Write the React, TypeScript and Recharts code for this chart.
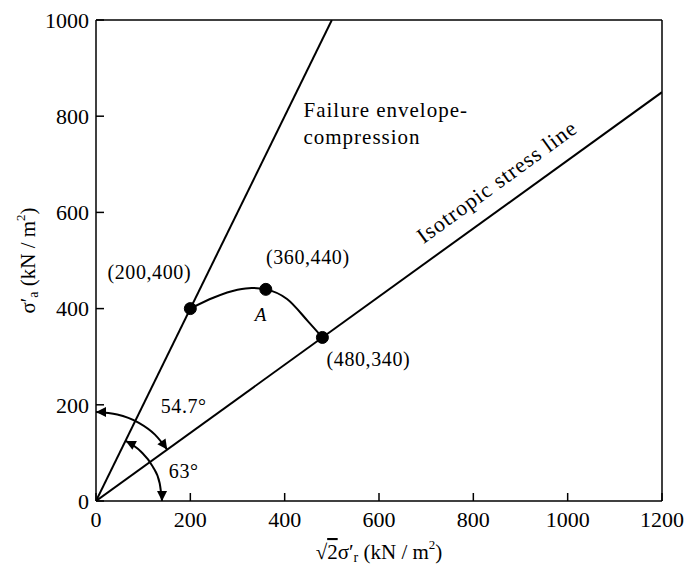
import { ComposedChart, Line, XAxis, YAxis, ReferenceDot, ReferenceLine } from "recharts";

// Stress-path plot in triaxial (√2σ'r, σ'a) space, drawn like a scanned textbook figure.
const X_TICKS = [0, 200, 400, 600, 800, 1000, 1200];
const Y_TICKS = [0, 200, 400, 600, 800, 1000];

const FAILURE_ENVELOPE = [
  { x: 0, y: 0 },
  { x: 500, y: 1000 },
];
const ISOTROPIC_LINE = [
  { x: 0, y: 0 },
  { x: 1200, y: 850 },
];
const STRESS_PATH = [
  { x: 200, y: 400 },
  { x: 250, y: 423 },
  { x: 300, y: 439 },
  { x: 330, y: 443 },
  { x: 360, y: 440 },
  { x: 405, y: 420 },
  { x: 450, y: 373 },
  { x: 480, y: 340 },
];
// angle arcs near the origin (54.7° and 63°)
const OUTER_ARC = [
  { x: 0, y: 185 },
  { x: 45, y: 180 },
  { x: 90, y: 163 },
  { x: 125, y: 138 },
  { x: 151, y: 107 },
];
const INNER_ARC = [
  { x: 63, y: 125 },
  { x: 95, y: 103 },
  { x: 120, y: 72 },
  { x: 135, y: 37 },
  { x: 140, y: 0 },
];
const STATE_POINTS = [
  { x: 200, y: 400, label: "(200,400)" },
  { x: 360, y: 440, label: "(360,440)" },
  { x: 480, y: 340, label: "(480,340)" },
];
const STATE_LABEL_OFFSET = [
  [-41, -37],
  [42, -32],
  [46, 22],
];

const FONT = "'Liberation Serif', 'Times New Roman', serif";
const INK = "#000";

// arrowhead at both ends of an angle arc, tangent to a circle round the origin
function arrowDot(count: number) {
  return (props: any) => {
    const { cx, cy, index, payload } = props;
    if (index !== 0 && index !== count - 1) return <g key={`a${index}`} />;
    const r = Math.hypot(payload.x, payload.y);
    let ux = payload.y / r;
    let uy = payload.x / r;
    if (index === 0) {
      ux = -ux;
      uy = -uy;
    }
    const len = 10;
    const half = 5;
    const bx = cx - ux * len;
    const by = cy - uy * len;
    const pts = `${cx},${cy} ${bx - uy * half},${by + ux * half} ${bx + uy * half},${by - ux * half}`;
    return <polygon key={`a${index}`} points={pts} fill={INK} />;
  };
}

function textAt(dx: number, dy: number, content: any, extra: any = {}) {
  return (props: any) => {
    const vb = props.viewBox;
    const cx = vb.x + vb.width / 2 + dx;
    const cy = vb.y + vb.height / 2 + dy;
    return (
      <text
        x={cx}
        y={cy}
        fontFamily={FONT}
        fontSize={20}
        letterSpacing={0.6}
        fill={INK}
        textAnchor="middle"
        dominantBaseline="central"
        {...extra}
      >
        {content}
      </text>
    );
  };
}

export default function App() {
  return (
    <div style={{ position: "absolute", left: 0, top: 0, background: "#fff" }}>
      <ComposedChart
        width={686}
        height={567}
        margin={{ top: 20, right: 23, bottom: 0, left: 0 }}
        style={{ fontFamily: FONT }}
      >
        <XAxis
          type="number"
          dataKey="x"
          domain={[0, 1200]}
          ticks={X_TICKS}
          height={66}
          allowDataOverflow
          stroke={INK}
          strokeWidth={1.5}
          tickSize={-8}
          tickMargin={18}
          tick={{ fill: INK, fontSize: 22, fontFamily: FONT }}
          label={{
            content: (p: any) => {
              const vb = p.viewBox;
              return (
                <text
                  x={vb.x + vb.width / 2}
                  y={552}
                  fontFamily={FONT}
                  fontSize={21}
                  fill={INK}
                  textAnchor="middle"
                  dominantBaseline="central"
                >
                  √<tspan textDecoration="overline">2</tspan>σ′
                  <tspan fontSize={14} dy={5}>r</tspan>
                  <tspan dy={-5}> (kN / m</tspan>
                  <tspan fontSize={13} dy={-8}>2</tspan>
                  <tspan dy={8}>)</tspan>
                </text>
              );
            },
          }}
        />
        <YAxis
          type="number"
          domain={[0, 1000]}
          ticks={Y_TICKS}
          width={96}
          allowDataOverflow
          stroke={INK}
          strokeWidth={1.5}
          tickSize={-8}
          tickMargin={15}
          tick={{ fill: INK, fontSize: 22, fontFamily: FONT }}
          label={{
            content: (p: any) => {
              const vb = p.viewBox;
              const cy = vb.y + vb.height / 2;
              return (
                <text
                  x={28}
                  y={cy}
                  transform={`rotate(-90 28 ${cy})`}
                  fontFamily={FONT}
                  fontSize={21}
                  fill={INK}
                  textAnchor="middle"
                  dominantBaseline="central"
                >
                  σ′<tspan fontSize={14} dy={5}>a</tspan>
                  <tspan dy={-5}> (kN / m</tspan>
                  <tspan fontSize={13} dy={-8}>2</tspan>
                  <tspan dy={8}>)</tspan>
                </text>
              );
            },
          }}
        />
        <YAxis
          yAxisId="right"
          orientation="right"
          type="number"
          domain={[0, 1000]}
          ticks={Y_TICKS}
          width={1}
          stroke={INK}
          strokeWidth={1.5}
          tickSize={-10}
          tick={false}
        />
        <ReferenceLine y={1000} stroke={INK} strokeWidth={1.5} />

        <Line
          data={FAILURE_ENVELOPE}
          dataKey="y"
          type="linear"
          stroke={INK}
          strokeWidth={2}
          dot={false}
          isAnimationActive={false}
        />
        <Line
          data={ISOTROPIC_LINE}
          dataKey="y"
          type="linear"
          stroke={INK}
          strokeWidth={2}
          dot={false}
          isAnimationActive={false}
        />
        <Line
          data={STRESS_PATH}
          dataKey="y"
          type="monotone"
          stroke={INK}
          strokeWidth={2}
          dot={false}
          isAnimationActive={false}
        />
        <Line
          data={OUTER_ARC}
          dataKey="y"
          type="monotone"
          stroke={INK}
          strokeWidth={2}
          dot={arrowDot(OUTER_ARC.length)}
          isAnimationActive={false}
        />
        <Line
          data={INNER_ARC}
          dataKey="y"
          type="monotone"
          stroke={INK}
          strokeWidth={2}
          dot={arrowDot(INNER_ARC.length)}
          isAnimationActive={false}
        />

        {STATE_POINTS.map((p, i) => (
          <ReferenceDot
            key={p.label}
            x={p.x}
            y={p.y}
            r={6}
            fill={INK}
            stroke={INK}
            label={{ content: textAt(STATE_LABEL_OFFSET[i][0], STATE_LABEL_OFFSET[i][1], p.label) }}
          />
        ))}
        <ReferenceDot
          x={360}
          y={440}
          r={1}
          fill="none"
          stroke="none"
          label={{ content: textAt(-5, 25, "A", { fontStyle: "italic", fontSize: 19 }) }}
        />
        <ReferenceDot
          x={186}
          y={198}
          r={1}
          fill="none"
          stroke="none"
          label={{ content: textAt(0, 0, "54.7°") }}
        />
        <ReferenceDot
          x={186}
          y={62}
          r={1}
          fill="none"
          stroke="none"
          label={{ content: textAt(0, 0, "63°") }}
        />
        <ReferenceDot
          x={442}
          y={813}
          r={1}
          fill="none"
          stroke="none"
          label={{
            content: (p: any) => {
              const vb = p.viewBox;
              const x = vb.x;
              const y = vb.y + vb.height / 2;
              return (
                <text
                  x={x}
                  y={y}
                  fontFamily={FONT}
                  fontSize={21}
                  letterSpacing={1}
                  fill={INK}
                  dominantBaseline="central"
                >
                  <tspan x={x}>Failure envelope-</tspan>
                  <tspan x={x} dy={27}>compression</tspan>
                </text>
              );
            },
          }}
        />
        <ReferenceDot
          x={850}
          y={664}
          r={1}
          fill="none"
          stroke="none"
          label={{
            content: (p: any) => {
              const vb = p.viewBox;
              const x = vb.x + vb.width / 2;
              const y = vb.y + vb.height / 2;
              return (
                <text
                  x={x}
                  y={y}
                  transform={`rotate(-36 ${x} ${y})`}
                  fontFamily={FONT}
                  fontSize={22}
                  letterSpacing={1}
                  fill={INK}
                  textAnchor="middle"
                  dominantBaseline="central"
                >
                  Isotropic stress line
                </text>
              );
            },
          }}
        />
      </ComposedChart>
    </div>
  );
}
